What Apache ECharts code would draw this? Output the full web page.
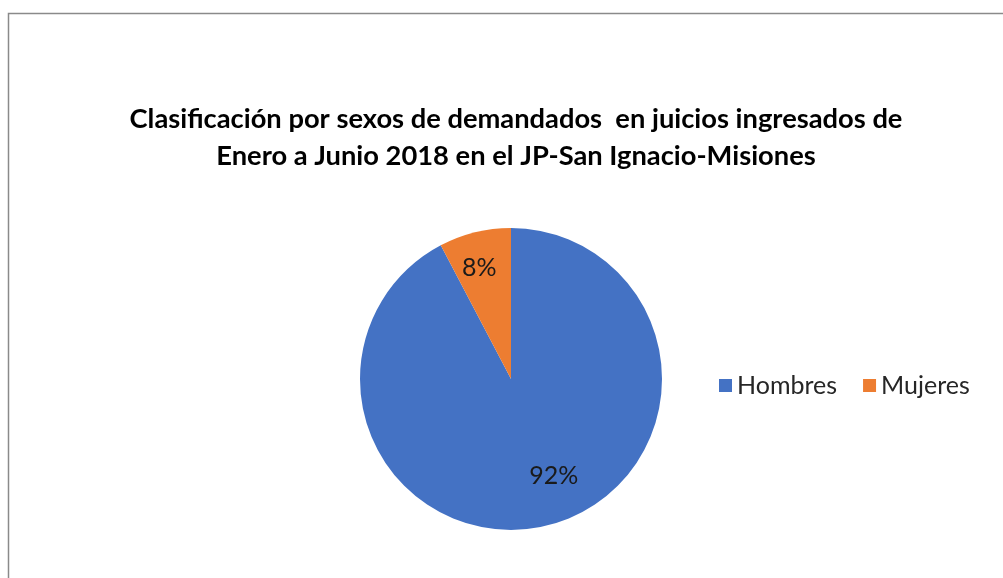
<!DOCTYPE html>
<html><head><meta charset="utf-8">
<script src="https://cdn.jsdelivr.net/npm/echarts@6/dist/echarts.min.js"></script>
<style>html,body{margin:0;padding:0;background:#fff}#c{width:1003px;height:578px}</style>
</head><body><div id="c"></div>
<script>
const categories = ['Hombres', 'Mujeres'];
const values = [92.3, 7.7];
const colors = ['#4472C4', '#ED7D31'];
const labelOffsets = [[24, 21], [-13, -35]];
const titleText = 'Clasificación por sexos de demandados  en juicios ingresados de\nEnero a Junio 2018 en el JP-San Ignacio-Misiones';

const chart = echarts.init(document.getElementById('c'));
chart.setOption({
  animation: false,
  backgroundColor: '#fff',
  graphic: [{
    type: 'rect', shape: {x: 8.5, y: 13.5, width: 1200, height: 800},
    style: {fill: 'none', stroke: '#8a8a8a', lineWidth: 1.5}, silent: true
  }],
  title: {
    text: titleText, left: 511, top: 96, textAlign: 'center',
    textStyle: {fontFamily: 'Lato', fontWeight: 'bold', fontSize: 27.3, color: '#000', lineHeight: 37}
  },
  legend: {
    data: categories, left: 714, top: 368, icon: 'rect', itemWidth: 13, itemHeight: 13, itemGap: 26,
    textStyle: {fontFamily: 'Lato', fontSize: 25, color: '#262626'}
  },
  series: [{
    type: 'pie', center: [511, 379], radius: 151, startAngle: 90, clockwise: true,
    avoidLabelOverlap: false,
    itemStyle: {borderWidth: 0},
    label: {
      position: 'inside', fontFamily: 'Lato', fontSize: 25, color: '#1a1a1a',
      formatter: p => Math.round(p.percent) + '%'
    },
    labelLine: {show: false},
    emphasis: {disabled: true},
    data: categories.map((n, i) => ({
      name: n, value: values[i], itemStyle: {color: colors[i]},
      label: {offset: labelOffsets[i]}
    }))
  }]
});
</script></body></html>
